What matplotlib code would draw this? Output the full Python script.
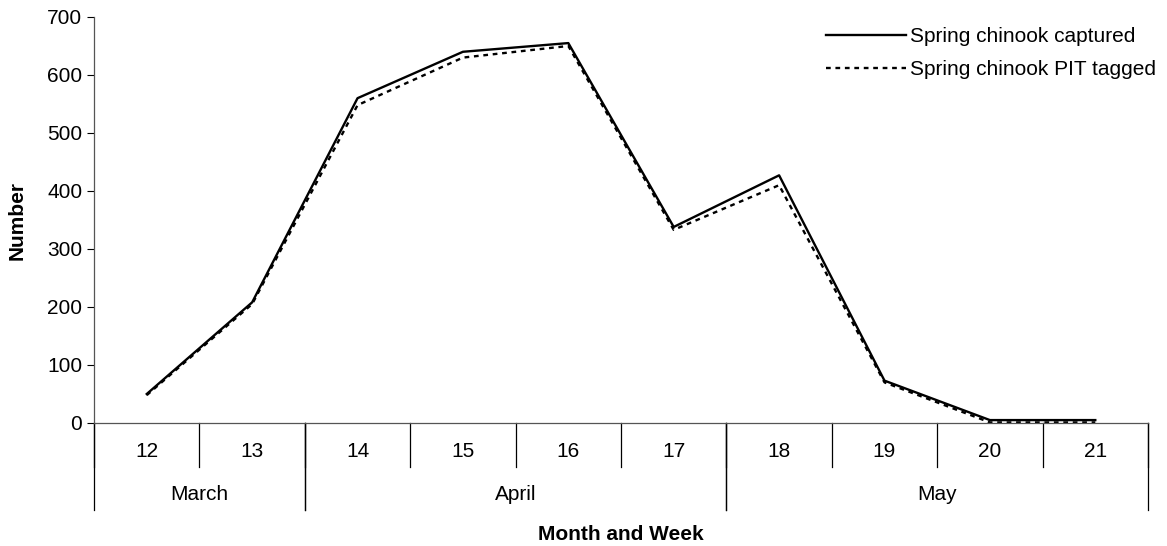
import matplotlib.pyplot as plt
from matplotlib.lines import Line2D

plt.rcParams['font.family'] = ['Liberation Sans', 'DejaVu Sans']

weeks = ['12', '13', '14', '15', '16', '17', '18', '19', '20', '21']
months = ['March', 'April', 'May']
month_spans = [(0, 2), (2, 6), (6, 10)]  # week index ranges per month

captured = [50, 208, 560, 640, 655, 338, 427, 73, 5, 5]
pit_tagged = [48, 205, 548, 630, 650, 333, 410, 70, 1, 1]

FS = 15

fig = plt.figure(figsize=(11.67, 5.46), dpi=100)
ax = fig.add_axes([0.0806, 0.2253, 0.9031, 0.7436])

x = [i + 0.5 for i in range(len(weeks))]
ax.plot(x, captured, color='black', lw=1.7, label='Spring chinook captured')
ax.plot(x, pit_tagged, color='black', lw=1.7, linestyle=(0, (2, 2)),
        label='Spring chinook PIT tagged')

ax.set_xlim(0, len(weeks))
ax.set_ylim(0, 700)
ax.set_yticks(range(0, 701, 100))
ax.tick_params(axis='y', labelsize=FS, length=5, width=0.8, direction='out')
ax.set_xticks([])
for s in ['top', 'right']:
    ax.spines[s].set_visible(False)
for s in ['left', 'bottom']:
    ax.spines[s].set_color('#555555')
    ax.spines[s].set_linewidth(0.9)

# category axis drawn below the plot
trans = ax.get_xaxis_transform()
ax_h = 0.7436 * 546
week_drop = 44 / ax_h
month_drop = 87 / ax_h
for i in range(len(weeks) + 1):
    ax.add_line(Line2D([i, i], [0, -week_drop], transform=trans, color='black',
                       lw=0.9, clip_on=False))
for i, w in enumerate(weeks):
    ax.text(i + 0.5, -29 / ax_h, w, transform=trans, ha='center', va='center',
            fontsize=FS)
for (a, b), m in zip(month_spans, months):
    for edge in (a, b):
        ax.add_line(Line2D([edge, edge], [0, -month_drop], transform=trans,
                           color='black', lw=0.9, clip_on=False))
    ax.text((a + b) / 2, -72 / ax_h, m, transform=trans, ha='center',
            va='center', fontsize=FS)

fig.text(0.532, 1 - 534 / 546, 'Month and Week', ha='center', va='center',
         fontsize=FS, fontweight='bold')
fig.text(0.0145, 1 - 220 / 546, 'Number', ha='center', va='center',
         rotation=90, fontsize=FS, fontweight='bold')

fig.legend(loc='upper right', bbox_to_anchor=(0.9906, 0.950), frameon=False,
           fontsize=FS, handlelength=3.85, handletextpad=0.2, labelspacing=0.65,
           borderaxespad=0, borderpad=0)

fig.savefig('out.png', dpi=100)
